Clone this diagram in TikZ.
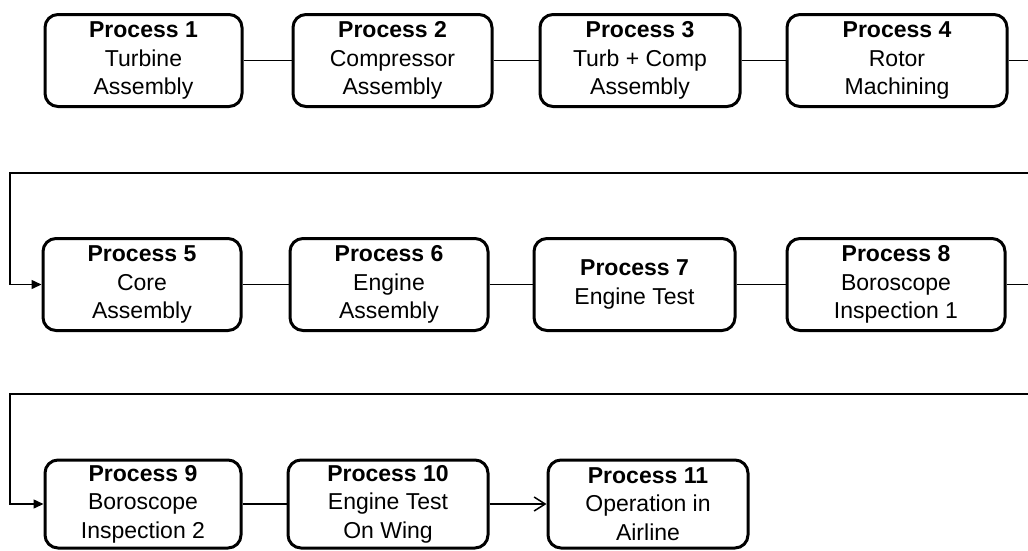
\documentclass[tikz,border=0pt]{standalone}
\usepackage{fontspec}
\setmainfont{Liberation Sans}
\usetikzlibrary{arrows.meta}
\tikzset{
  procbox/.style={draw=black, line width=3pt, rounded corners=13pt, align=center,
    inner sep=0pt, minimum height=92pt, font=\fontsize{23}{28.5}\selectfont},
  link/.style={draw=black, line width=1.5pt},
  filltip/.style={-{Triangle[length=10pt,width=9pt]}},
  opentip/.style={-{Straight Barb[length=11pt,width=14pt,line width=1.5pt]}}
}
\begin{document}
\begin{tikzpicture}[x=1pt,y=-1pt]
\clip (0,0) rectangle (1028,550);
% row 1
\node[procbox, minimum width=197pt] (p1) at (143.5,60.5) {\textbf{Process 1}\\Turbine\\Assembly};
\node[procbox, minimum width=199pt] (p2) at (392.5,60.5) {\textbf{Process 2}\\Compressor\\Assembly};
\node[procbox, minimum width=200pt] (p3) at (640,60.5) {\textbf{Process 3}\\Turb + Comp\\Assembly};
\node[procbox, minimum width=220pt] (p4) at (897,60.5) {\textbf{Process 4}\\Rotor\\Machining};
% row 2
\node[procbox, minimum width=198pt] (p5) at (142,284.5) {\textbf{Process 5}\\Core\\Assembly};
\node[procbox, minimum width=198pt] (p6) at (389,284.5) {\textbf{Process 6}\\Engine\\Assembly};
\node[procbox, minimum width=201pt] (p7) at (634.5,284.5) {\textbf{Process 7}\\Engine Test};
\node[procbox, minimum width=218pt] (p8) at (896,284.5) {\textbf{Process 8}\\Boroscope\\Inspection 1};
% row 3
\node[procbox, minimum width=196pt, minimum height=88pt] (p9) at (143,504) {\textbf{Process 9}\\Boroscope\\Inspection 2};
\node[procbox, minimum width=200pt, minimum height=88pt] (p10) at (388,504) {\textbf{Process 10}\\Engine Test\\On Wing};
\node[procbox, minimum width=200pt, minimum height=88pt] (p11) at (648,504) {\textbf{Process 11}\\Operation in\\Airline};
% free ends
\coordinate (e1) at (1040,60.5);
\coordinate (r1) at (1040,173);
\coordinate (l1) at (10,173);
\coordinate (e2) at (1040,284.5);
\coordinate (r2) at (1040,394);
\coordinate (l2) at (10,394);
% connectors
\draw[link] (p1) -- (p2);
\draw[link] (p2) -- (p3);
\draw[link] (p3) -- (p4);
\draw[link] (p4) -- (e1);
\draw[link, filltip] (r1) -- (l1) |- (p5.west);
\draw[link] (p5) -- (p6);
\draw[link] (p6) -- (p7);
\draw[link] (p7) -- (p8);
\draw[link] (p8) -- (e2);
\draw[link, filltip] (r2) -- (l2) |- (p9.west);
\draw[link] (p9) -- (p10);
\draw[link, opentip] (p10) -- (p11);
\end{tikzpicture}
\end{document}
